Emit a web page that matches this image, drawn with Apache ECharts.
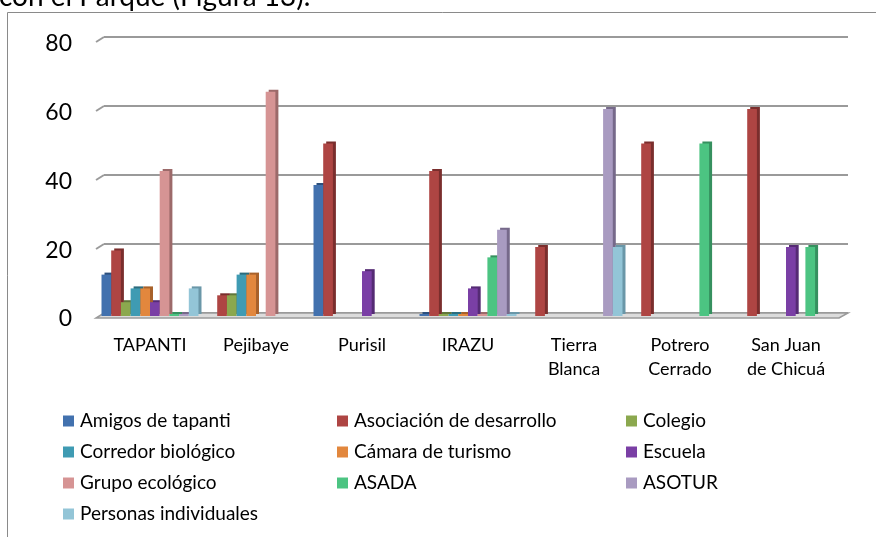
<!DOCTYPE html>
<html>
<head>
<meta charset="utf-8">
<script src="https://cdn.jsdelivr.net/npm/echarts@6/dist/echarts.min.js"></script>
<style>
html,body{margin:0;padding:0;background:#fff}
#chart{width:876px;height:537px}
</style>
</head>
<body>
<div id="chart"></div>
<script>
// categorías (eje X)
const categorias = ['TAPANTI', 'Pejibaye', 'Purisil', 'IRAZU', 'Tierra\nBlanca', 'Potrero\nCerrado', 'San Juan\nde Chicuá']
const ticksY = [0, 20, 40, 60, 80]

// valores por grupo (null = sin barra)
const amigos     = [12, null, 38, 0, null, null, null]
const asociacion = [19, 6, 50, 42, 20, 50, 60]
const colegio    = [4, 6, null, 0, null, null, null]
const corredor   = [8, 12, null, 0, null, null, null]
const camara     = [8, 12, null, 0, null, null, null]
const escuela    = [4, null, 13, 8, null, null, 20]
const grupo      = [42, 65, null, 0, null, null, null]
const asada      = [0, null, null, 17, null, 50, 20]
const asotur     = [0, null, null, 25, 60, null, null]
const personas   = [8, null, null, 0, 20, null, null]

const nombres = ['Amigos de tapanti', 'Asociación de desarrollo', 'Colegio', 'Corredor biológico',
  'Cámara de turismo', 'Escuela', 'Grupo ecológico', 'ASADA', 'ASOTUR', 'Personas individuales']
const datos = [amigos, asociacion, colegio, corredor, camara, escuela, grupo, asada, asotur, personas]
const colores = ['#4271AE', '#AE4543', '#8BA84E', '#3F9BB3', '#E2873D', '#7A3FA5', '#D69494', '#4CC482', '#A99BC1', '#93C5D7']
const sombras = ['#2c4f7c', '#7a2e2d', '#61763a', '#2c6c7d', '#a8612a', '#552b74', '#9c6a6a', '#36905f', '#76698a', '#6a97a8']

const fuente = 'Lato, "Open Sans", sans-serif'
const gris = '#9a9a9a'

const chart = echarts.init(document.getElementById('chart'))

const series = nombres.map((n, i) => ({
  name: n,
  type: 'bar',
  xAxisIndex: 0,
  yAxisIndex: 0,
  data: datos[i],
  barGap: '0%',
  barCategoryGap: '8.5%',
  barMinHeight: 2,
  itemStyle: {
    color: colores[i],
    shadowColor: sombras[i],
    shadowBlur: 0,
    shadowOffsetX: 3,
    shadowOffsetY: -2
  },
  emphasis: {disabled: true}
}))

const legendStyle = {
  orient: 'vertical',
  top: 410,
  padding: 0,
  itemWidth: 11,
  itemHeight: 11,
  itemGap: 9,
  icon: 'rect',
  selectedMode: false,
  itemStyle: {shadowBlur: 0, shadowOffsetX: 0, shadowOffsetY: 0, shadowColor: 'rgba(0,0,0,0)'},
  textStyle: {fontFamily: fuente, fontSize: 19, lineHeight: 22, color: '#000', padding: [0, 0, 0, 1]}
}

chart.setOption({
  animation: false,
  backgroundColor: '#fff',
  grid: [
    {left: 97, right: 37, top: 40, bottom: 221},   // barras
    {left: 104, right: 28, top: 37, bottom: 224},  // pared del fondo
    {left: 97, right: 37, top: 44, bottom: 218}    // etiquetas del eje Y (plano frontal)
  ],
  xAxis: [
    {
      type: 'category', gridIndex: 0, data: categorias,
      axisLine: {show: false}, axisTick: {show: false},
      axisLabel: {fontFamily: fuente, fontSize: 18, lineHeight: 24, color: '#000', margin: 17, interval: 0}
    },
    {type: 'category', gridIndex: 1, data: categorias, show: false},
    {type: 'category', gridIndex: 2, data: categorias, show: false}
  ],
  yAxis: [
    {
      type: 'value', gridIndex: 0, min: 0, max: 80, interval: 20,
      axisLine: {show: false}, axisTick: {show: false}, splitLine: {show: false}, axisLabel: {show: false}
    },
    {
      type: 'value', gridIndex: 1, min: 0, max: 80, interval: 20,
      axisLine: {show: false}, axisTick: {show: false}, axisLabel: {show: false},
      splitLine: {lineStyle: {color: gris, width: 2}}
    },
    {
      type: 'value', gridIndex: 2, min: 0, max: 80, interval: 20,
      axisLine: {show: false}, axisTick: {show: false}, splitLine: {show: false},
      axisLabel: {fontFamily: fuente, fontSize: 23, color: '#000', margin: 25}
    }
  ],
  legend: [
    Object.assign({}, legendStyle, {left: 63, data: [nombres[0], nombres[3], nombres[6], nombres[9]]}),
    Object.assign({}, legendStyle, {left: 337, data: [nombres[1], nombres[4], nombres[7]]}),
    Object.assign({}, legendStyle, {left: 626, data: [nombres[2], nombres[5], nombres[8]]})
  ],
  series: series
})

// piso 3D, conectores inclinados, marco y texto cortado de arriba
const graficos = []
const xIzqPared = 104
const xDerPared = 876 - 28
const xIzqFrente = 97
const xDerFrente = 876 - 37

ticksY.forEach(t => {
  const y = chart.convertToPixel({yAxisIndex: 1}, t)
  if (t > 0) {
    graficos.push({
      type: 'line', z: 1,
      shape: {x1: xIzqFrente - 1, y1: y + 5, x2: xIzqPared, y2: y},
      style: {stroke: gris, lineWidth: 2}
    })
  }
})

const y0pared = chart.convertToPixel({yAxisIndex: 1}, 0)
const y0frente = y0pared + 5
graficos.push({
  type: 'polygon', z: 1,
  shape: {points: [[xIzqFrente - 1, y0frente], [xDerFrente, y0frente], [xDerPared, y0pared], [xIzqPared, y0pared]]},
  style: {fill: '#dcdcdc', stroke: gris, lineWidth: 1.5}
})

graficos.push({
  type: 'rect', z: 0, silent: true,
  shape: {x: 7.5, y: 12.5, width: 900, height: 600},
  style: {fill: 'none', stroke: '#8a8a8a', lineWidth: 1}
})

graficos.push({
  type: 'text', z: 5,
  style: {
    text: 'con el Parque (Figura 13).', x: -1, y: 11,
    font: '28px ' + fuente, fill: '#000', verticalAlign: 'bottom'
  }
})

chart.setOption({graphic: graficos})
</script>
</body>
</html>
